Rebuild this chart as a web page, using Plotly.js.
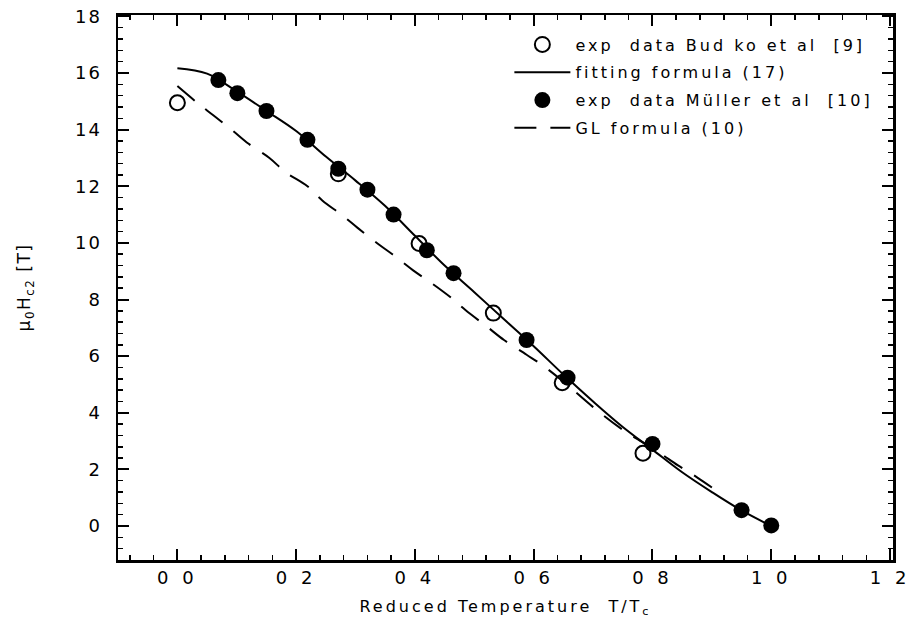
<!DOCTYPE html>
<html>
<head>
<meta charset="utf-8">
<script src="https://cdn.plot.ly/plotly-3.0.1.min.js"></script>
<style>
  html, body { margin: 0; padding: 0; background: #fff; }
  #chart { width: 917px; height: 633px; }
  .xtick text { letter-spacing: 4px; }
  .ytick text { letter-spacing: 2px; }
  .legendtext { letter-spacing: 3px; }
  .g-xtitle text { letter-spacing: 3px; }
  .g-ytitle text { letter-spacing: 1.5px; }
</style>
</head>
<body>
<div id="chart"></div>
<script>
// Budko et al [9] (open circles)
const budkoT = [0.0, 0.271, 0.407, 0.532, 0.648, 0.784];
const budkoH = [14.95, 12.44, 9.98, 7.52, 5.06, 2.57];

// Müller et al [10] (filled circles)
const mullerT = [0.069, 0.101, 0.150, 0.219, 0.271, 0.320, 0.364, 0.420, 0.465, 0.588, 0.657, 0.800, 0.950, 1.000];
const mullerH = [15.75, 15.29, 14.66, 13.64, 12.62, 11.88, 11.00, 9.74, 8.93, 6.57, 5.24, 2.90, 0.56, 0.02];

// fitting formula (17) (solid curve)
const fitT = [0.0, 0.05, 0.10, 0.15, 0.20, 0.25, 0.30, 0.35, 0.40, 0.45, 0.50, 0.55, 0.60, 0.65, 0.70, 0.75, 0.80, 0.85, 0.90, 0.95, 1.00];
const fitH = [16.17, 15.98, 15.35, 14.66, 13.95, 13.05, 12.20, 11.30, 10.25, 9.20, 8.26, 7.30, 6.35, 5.35, 4.40, 3.50, 2.70, 1.90, 1.20, 0.55, 0.00];

// GL formula (10) (dashed curve)
const glT = [0.0, 0.034, 0.061, 0.094, 0.12, 0.155, 0.182, 0.219, 0.244, 0.278, 0.303, 0.337, 0.362, 0.397, 0.426, 0.46, 0.485, 0.522, 0.55, 0.588, 0.614, 0.65, 0.70, 0.75, 0.808, 0.843, 0.875, 0.911];
const glH = [15.54, 14.94, 14.5, 13.95, 13.5, 13.0, 12.5, 12.0, 11.5, 10.97, 10.54, 9.98, 9.6, 9.03, 8.61, 8.08, 7.63, 7.03, 6.57, 6.05, 5.69, 5.1, 4.2, 3.4, 2.64, 2.14, 1.72, 1.2];

// tick labels
const xTickVals = [0.0, 0.2, 0.4, 0.6, 0.8, 1.0, 1.2];
const xTickText = ["0 0", "0 2", "0 4", "0 6", "0 8", "1 0", "1 2"];
const yTickVals = [0, 2, 4, 6, 8, 10, 12, 14, 16, 18];
const yTickText = ["0", "2", "4", "6", "8", "10", "12", "14", "16", "18"];

const legendNames = ["exp  data Bud ko et al  [9]", "fitting formula (17)", "exp  data Müller et al  [10]", "GL formula (10)"];

const FONT = "DejaVu Sans, Liberation Sans, Arial, sans-serif";

const traces = [
  {
    x: budkoT, y: budkoH, type: "scatter", mode: "markers", name: legendNames[0],
    legendgroup: "a",
    marker: { symbol: "circle-open", size: 15, color: "#000", line: { color: "#000", width: 2 } }
  },
  {
    x: fitT, y: fitH, type: "scatter", mode: "lines", name: legendNames[1],
    legendgroup: "b", line: { color: "#000", width: 2, shape: "spline" }
  },
  {
    x: mullerT, y: mullerH, type: "scatter", mode: "markers", name: legendNames[2],
    legendgroup: "c",
    marker: { symbol: "circle", size: 16, color: "#000" }
  },
  {
    x: glT, y: glH, type: "scatter", mode: "lines", name: legendNames[3],
    legendgroup: "d", line: { color: "#000", width: 2, dash: "22px,14px", shape: "spline" }
  }
];

const axisCommon = {
  showline: true, linecolor: "#000", linewidth: 2.5, mirror: "ticks",
  ticks: "inside", ticklen: 11, tickwidth: 2, tickcolor: "#000",
  showgrid: false, zeroline: false
};

const layout = {
  width: 917, height: 633,
  margin: { l: 118, r: 24, t: 15, b: 73 },
  paper_bgcolor: "#fff", plot_bgcolor: "#fff",
  showlegend: true,
  legend: {
    x: 0.505, y: 0.977, xanchor: "left", yanchor: "top",
    bgcolor: "rgba(0,0,0,0)", borderwidth: 0,
    font: { family: FONT, size: 16, color: "#000" },
    traceorder: "grouped", tracegroupgap: 4, itemwidth: 56
  },
  xaxis: Object.assign({}, axisCommon, {
    range: [-0.1, 1.205],
    tickmode: "array", tickvals: xTickVals, ticktext: xTickText,
    tickfont: { family: FONT, size: 18, color: "#000" },
    minor: { dtick: 0.04, tick0: 0, ticks: "inside", ticklen: 5, tickwidth: 1.5, tickcolor: "#000" },
    title: { text: "Reduced Temperature  T/T<sub>c</sub>", font: { family: FONT, size: 16, color: "#000" }, standoff: 14 }
  }),
  yaxis: Object.assign({}, axisCommon, {
    range: [-1.2, 18.05],
    tickmode: "array", tickvals: yTickVals, ticktext: yTickText,
    tickfont: { family: FONT, size: 18, color: "#000" },
    ticklabelstandoff: 10,
    minor: { dtick: 0.4, tick0: 0, ticks: "inside", ticklen: 5, tickwidth: 1.5, tickcolor: "#000" },
    title: { text: "μ<sub>0</sub>H<sub>c2</sub> [T]", font: { family: FONT, size: 17, color: "#000" }, standoff: 40 }
  })
};

Plotly.newPlot("chart", traces, layout, { displayModeBar: false, staticPlot: true });
</script>
</body>
</html>
